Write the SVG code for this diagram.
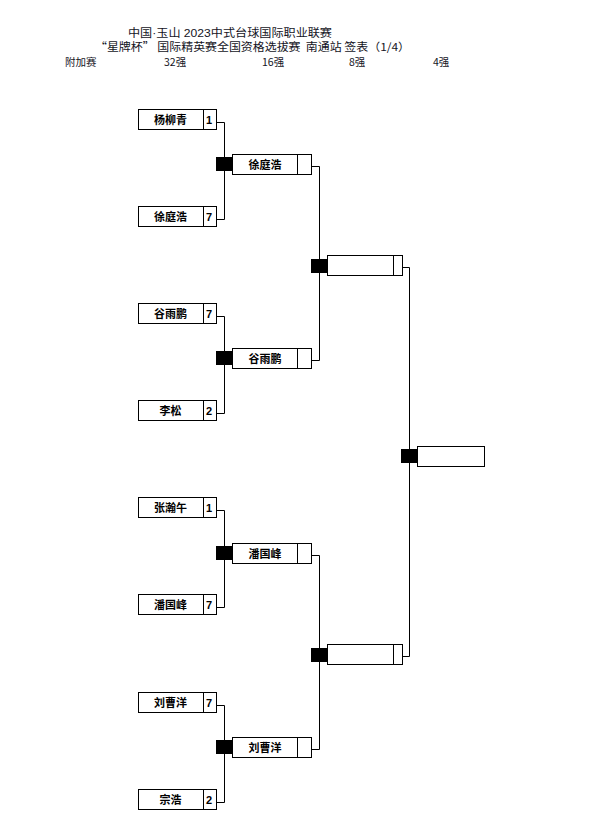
<svg xmlns="http://www.w3.org/2000/svg" width="590" height="829" viewBox="0 0 590 829">
<style>
.t{font-family:"Noto Sans CJK SC","Liberation Sans",sans-serif;fill:#141424}
.a{font-family:"Liberation Sans","Noto Sans CJK SC",sans-serif}
.h{font-size:11px}
.l{font-size:10.5px}
.b{fill:#fff;stroke:#000;stroke-width:1}
.d{stroke:#000;stroke-width:1}
.n{font-family:"Liberation Sans","Noto Sans CJK SC",sans-serif;font-size:11px;font-weight:bold;fill:#000;text-anchor:middle}
.s{font-family:"Liberation Sans","Noto Sans CJK SC",sans-serif;font-size:11px;font-weight:bold;fill:#000}
.k{fill:#000}
.c{fill:none;stroke:#000;stroke-width:1}
</style>
<g id="title">
<text class="t a h" x="128" y="37" textLength="204" lengthAdjust="spacingAndGlyphs">中国·玉山 2023中式台球国际职业联赛</text>
<text class="t h" x="95" y="51" xml:space="preserve" textLength="315" lengthAdjust="spacingAndGlyphs">“星牌杯” 国际精英赛全国资格选拔赛  南通站 签表（1/4）</text>
<text class="t l" x="65" y="66">附加赛</text>
<text class="t l" x="164" y="66">32强</text>
<text class="t l" x="262" y="66">16强</text>
<text class="t l" x="349" y="66">8强</text>
<text class="t l" x="433" y="66">4强</text>
</g>
<g id="connectors">
<path class="c" d="M216.5 122.5H224.5V219.5H216.5"/>
<path class="c" d="M216.5 316.5H224.5V413.5H216.5"/>
<path class="c" d="M216.5 510.5H224.5V607.5H216.5"/>
<path class="c" d="M216.5 705.5H224.5V802.5H216.5"/>
<path class="c" d="M311.5 166.5H319.5V360.5H311.5"/>
<path class="c" d="M311.5 555.5H319.5V749.5H311.5"/>
<path class="c" d="M402.5 267.5H409.5V656.5H402.5"/>
</g>
<g id="r1-1"><rect class="b" x="138.5" y="109.5" width="78" height="20"/><line class="d" x1="203.5" y1="109.5" x2="203.5" y2="129.5"/><text class="n" x="170.5" y="124">杨柳青</text><text class="s" x="206" y="124">1</text></g>
<g id="r1-2"><rect class="b" x="138.5" y="206.5" width="78" height="20"/><line class="d" x1="203.5" y1="206.5" x2="203.5" y2="226.5"/><text class="n" x="170.5" y="221">徐庭浩</text><text class="s" x="206" y="221">7</text></g>
<g id="r1-3"><rect class="b" x="138.5" y="303.5" width="78" height="20"/><line class="d" x1="203.5" y1="303.5" x2="203.5" y2="323.5"/><text class="n" x="170.5" y="318">谷雨鹏</text><text class="s" x="206" y="318">7</text></g>
<g id="r1-4"><rect class="b" x="138.5" y="400.5" width="78" height="20"/><line class="d" x1="203.5" y1="400.5" x2="203.5" y2="420.5"/><text class="n" x="170.5" y="415">李松</text><text class="s" x="206" y="415">2</text></g>
<g id="r1-5"><rect class="b" x="138.5" y="497.5" width="78" height="20"/><line class="d" x1="203.5" y1="497.5" x2="203.5" y2="517.5"/><text class="n" x="170.5" y="512">张瀚午</text><text class="s" x="206" y="512">1</text></g>
<g id="r1-6"><rect class="b" x="138.5" y="594.5" width="78" height="20"/><line class="d" x1="203.5" y1="594.5" x2="203.5" y2="614.5"/><text class="n" x="170.5" y="609">潘国峰</text><text class="s" x="206" y="609">7</text></g>
<g id="r1-7"><rect class="b" x="138.5" y="692.5" width="78" height="20"/><line class="d" x1="203.5" y1="692.5" x2="203.5" y2="712.5"/><text class="n" x="170.5" y="707">刘曹洋</text><text class="s" x="206" y="707">7</text></g>
<g id="r1-8"><rect class="b" x="138.5" y="789.5" width="78" height="20"/><line class="d" x1="203.5" y1="789.5" x2="203.5" y2="809.5"/><text class="n" x="170.5" y="804">宗浩</text><text class="s" x="206" y="804">2</text></g>
<g id="r2-1"><rect class="k" x="216" y="157" width="16" height="14"/><rect class="b" x="232.5" y="154.5" width="79" height="20"/><line class="d" x1="297.5" y1="154.5" x2="297.5" y2="174.5"/><text class="n" x="265" y="169">徐庭浩</text></g>
<g id="r2-2"><rect class="k" x="216" y="351" width="16" height="14"/><rect class="b" x="232.5" y="348.5" width="79" height="20"/><line class="d" x1="297.5" y1="348.5" x2="297.5" y2="368.5"/><text class="n" x="265" y="363">谷雨鹏</text></g>
<g id="r2-3"><rect class="k" x="216" y="546" width="16" height="14"/><rect class="b" x="232.5" y="543.5" width="79" height="20"/><line class="d" x1="297.5" y1="543.5" x2="297.5" y2="563.5"/><text class="n" x="265" y="558">潘国峰</text></g>
<g id="r2-4"><rect class="k" x="216" y="740" width="16" height="14"/><rect class="b" x="232.5" y="737.5" width="79" height="20"/><line class="d" x1="297.5" y1="737.5" x2="297.5" y2="757.5"/><text class="n" x="265" y="752">刘曹洋</text></g>
<g id="r3-1"><rect class="k" x="311" y="259" width="16" height="14"/><rect class="b" x="327.5" y="255.5" width="75" height="20"/><line class="d" x1="393.5" y1="255.5" x2="393.5" y2="275.5"/></g>
<g id="r3-2"><rect class="k" x="311" y="648" width="16" height="14"/><rect class="b" x="327.5" y="644.5" width="75" height="20"/><line class="d" x1="393.5" y1="644.5" x2="393.5" y2="664.5"/></g>
<g id="r4-1"><rect class="k" x="401" y="449" width="16" height="14"/><rect class="b" x="417.5" y="446.5" width="67" height="20"/></g>
</svg>
